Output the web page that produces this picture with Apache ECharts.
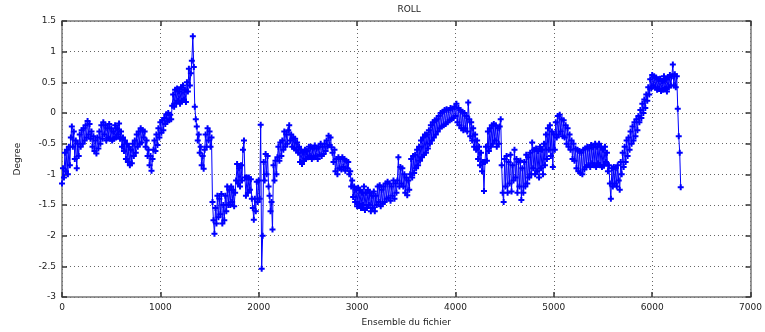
<!DOCTYPE html>
<html>
<head>
<meta charset="utf-8">
<script src="https://cdn.jsdelivr.net/npm/echarts@6/dist/echarts.min.js"></script>
<style>
  html, body { margin: 0; padding: 0; background: #fff; }
  #chart { width: 765px; height: 332px; }
</style>
</head>
<body>
<div id="chart"></div>
<script>
// Roll angle per ensemble, one reading every 10 ensembles starting at 0
const ensembleStep = 10;
const roll = [
  -1.15, -0.9, -1.05, -0.65, -0.95, -0.6, -1.0, -0.55, -0.85, -0.4,
  -0.22, -0.55, -0.3, -0.75, -0.45, -0.9, -0.5, -0.7, -0.35, -0.55,
  -0.28, -0.5, -0.25, -0.45, -0.2, -0.4, -0.13, -0.35, -0.18, -0.42,
  -0.3, -0.55, -0.38, -0.62, -0.45, -0.66, -0.4, -0.58, -0.3, -0.5,
  -0.2, -0.42, -0.15, -0.35, -0.2, -0.45, -0.25, -0.4, -0.18, -0.42,
  -0.25, -0.45, -0.3, -0.42, -0.2, -0.4, -0.25, -0.35, -0.17, -0.42,
  -0.3, -0.55, -0.4, -0.62, -0.45, -0.75, -0.5, -0.8, -0.55, -0.85,
  -0.6, -0.82, -0.5, -0.7, -0.45, -0.65, -0.35, -0.55, -0.3, -0.5,
  -0.25, -0.48, -0.28, -0.4, -0.3, -0.55, -0.45, -0.7, -0.6, -0.85,
  -0.7, -0.94, -0.75, -0.6, -0.45, -0.62, -0.35, -0.52, -0.25, -0.4,
  -0.15, -0.32, -0.12, -0.28, -0.08, -0.18, -0.02, -0.14, 0.0, -0.12,
  -0.03, -0.1, 0.12, 0.3, 0.1, 0.38, 0.16, 0.4, 0.2, 0.35,
  0.15, 0.42, 0.2, 0.45, 0.22, 0.38, 0.18, 0.5, 0.35, 0.72,
  0.45, 0.65, 0.85, 1.25, 0.75, 0.1, -0.1, -0.22, -0.45, -0.35,
  -0.65, -0.55, -0.85, -0.7, -0.91, -0.6, -0.35, -0.55, -0.25, -0.45,
  -0.3, -0.55, -0.4, -1.45, -1.75, -1.97, -1.55, -1.8, -1.35, -1.7,
  -1.4, -1.65, -1.32, -1.8, -1.5, -1.75, -1.35, -1.6, -1.2, -1.5,
  -1.25, -1.5, -1.2, -1.45, -1.25, -1.52, -1.3, -1.1, -0.83, -1.15,
  -0.9, -1.2, -0.85, -1.1, -0.6, -0.45, -1.05, -1.35, -1.05, -1.3,
  -1.05, -1.25, -1.08, -1.4, -1.55, -1.74, -1.4, -1.6, -1.12, -1.45,
  -1.1, -1.4, -0.19, -2.54, -2.0, -0.8, -1.1, -0.67, -1.0, -0.7,
  -1.2, -1.35, -1.6, -1.45, -1.9, -0.85, -1.1, -0.78, -1.0, -0.72,
  -0.55, -0.78, -0.48, -0.7, -0.45, -0.6, -0.3, -0.55, -0.35, -0.5,
  -0.28, -0.2, -0.45, -0.35, -0.55, -0.4, -0.58, -0.42, -0.6, -0.48,
  -0.65, -0.55, -0.8, -0.6, -0.83, -0.65, -0.78, -0.6, -0.75, -0.62,
  -0.72, -0.55, -0.7, -0.55, -0.75, -0.58, -0.72, -0.53, -0.7, -0.58,
  -0.75, -0.55, -0.68, -0.5, -0.7, -0.55, -0.67, -0.5, -0.62, -0.45,
  -0.55, -0.37, -0.52, -0.4, -0.56, -0.65, -0.8, -0.6, -0.95, -0.75,
  -1.0, -0.72, -0.9, -0.75, -0.92, -0.72, -0.88, -0.75, -0.94, -0.78,
  -0.9, -0.8, -1.0, -0.95, -1.2, -1.1, -1.37, -1.2, -1.45, -1.25,
  -1.52, -1.22, -1.48, -1.25, -1.55, -1.3, -1.5, -1.2, -1.58, -1.3,
  -1.55, -1.25, -1.5, -1.3, -1.6, -1.35, -1.55, -1.28, -1.6, -1.35,
  -1.5, -1.2, -1.45, -1.18, -1.52, -1.25, -1.48, -1.2, -1.45, -1.15,
  -1.4, -1.12, -1.38, -1.15, -1.43, -1.2, -1.35, -1.1, -1.4, -1.15,
  -1.3, -1.1, -0.72, -1.2, -0.88, -1.15, -0.9, -1.2, -1.0, -1.3,
  -1.05, -1.34, -1.1, -1.25, -1.0, -0.75, -1.05, -0.7, -0.98, -0.68,
  -0.9, -0.6, -0.85, -0.55, -0.78, -0.45, -0.72, -0.4, -0.68, -0.35,
  -0.65, -0.35, -0.58, -0.28, -0.5, -0.2, -0.45, -0.15, -0.4, -0.12,
  -0.35, -0.1, -0.3, -0.05, -0.25, 0.0, -0.22, 0.02, -0.2, 0.05,
  -0.18, 0.06, -0.15, 0.05, -0.12, 0.08, -0.1, 0.07, -0.08, 0.1,
  -0.05, 0.15, -0.15, 0.08, -0.2, 0.05, -0.25, 0.02, -0.28, 0.0,
  -0.25, -0.05, -0.3, 0.17, -0.1, -0.38, -0.15, -0.45, -0.25, -0.55,
  -0.35, -0.6, -0.45, -0.75, -0.55, -0.85, -0.65, -0.95, -0.8, -1.27,
  -0.8, -0.55, -0.78, -0.3, -0.62, -0.25, -0.55, -0.2, -0.5, -0.18,
  -0.45, -0.2, -0.55, -0.25, -0.5, -0.22, -0.1, -0.85, -1.3, -1.45,
  -0.75, -1.2, -0.7, -1.3, -0.8, -1.15, -0.68, -1.28, -0.85, -1.1,
  -0.6, -1.05, -0.75, -1.3, -0.8, -1.2, -0.78, -1.42, -0.9, -1.3,
  -0.8, -1.2, -0.68, -1.15, -0.72, -1.05, -0.65, -1.0, -0.48, -0.9,
  -0.6, -1.0, -0.58, -0.95, -0.62, -1.05, -0.55, -0.9, -0.6, -1.0,
  -0.5, -0.85, -0.35, -0.75, -0.25, -0.6, -0.2, -0.7, -0.3, -0.88,
  -0.35, -0.6, -0.15, -0.4, -0.05, -0.35, -0.03, -0.3, -0.1, -0.38,
  -0.12, -0.4, -0.2, -0.5, -0.25, -0.55, -0.35, -0.6, -0.45, -0.75,
  -0.5, -0.78, -0.58, -0.9, -0.6, -0.95, -0.62, -0.98, -0.65, -1.0,
  -0.6, -0.92, -0.58, -0.88, -0.55, -0.85, -0.58, -0.88, -0.52, -0.82,
  -0.56, -0.85, -0.5, -0.88, -0.55, -0.82, -0.5, -0.85, -0.55, -0.88,
  -0.6, -0.86, -0.55, -0.8, -0.65, -0.95, -0.85, -1.15, -1.4, -0.9,
  -1.2, -0.88, -1.15, -0.9, -1.2, -0.85, -1.1, -1.25, -0.8, -1.0,
  -0.65, -0.88, -0.55, -0.8, -0.45, -0.7, -0.4, -0.6, -0.3, -0.5,
  -0.22, -0.45, -0.15, -0.38, -0.1, -0.28, -0.05, -0.15, 0.05, -0.08,
  0.15, 0.0, 0.22, 0.08, 0.3, 0.2, 0.42, 0.3, 0.55, 0.4,
  0.62, 0.45, 0.6, 0.42, 0.58, 0.38, 0.55, 0.4, 0.56, 0.36,
  0.52, 0.38, 0.6, 0.4, 0.55, 0.35, 0.58, 0.42, 0.62, 0.45,
  0.6, 0.79, 0.45, 0.63, 0.42, 0.6, 0.07, -0.38, -0.65, -1.21
];

const xTicks = { min: 0, max: 7000, interval: 1000 };
const yTicks = { min: -3, max: 1.5, interval: 0.5 };

const points = roll.map((v, i) => [i * ensembleStep, v]);

const plotBox = { left: 62, right: 10, top: 21, bottom: 35 };
const chartWidth = 765;

const labelFont = { fontFamily: 'DejaVu Sans', fontSize: 9, color: '#222' };
const frameLine = { show: true, onZero: false, lineStyle: { color: '#777', width: 1.5 } };
const gridLine = { show: true, lineStyle: { color: '#666', width: 1, type: [1, 3] } };
const inTicks = { show: true, inside: true, length: 5, lineStyle: { color: '#333', width: 1.5 } };
const plain = v => String(v);

const chart = echarts.init(document.getElementById('chart'), null, { renderer: 'canvas' });
chart.setOption({
  animation: false,
  backgroundColor: '#fff',
  graphic: [{
    type: 'text',
    left: (plotBox.left + chartWidth - plotBox.right) / 2 - 11,
    top: 5,
    style: { text: 'ROLL', fontFamily: 'DejaVu Sans', fontSize: 9, fill: '#222' }
  }],
  grid: plotBox,
  xAxis: [
    {
      type: 'value', min: xTicks.min, max: xTicks.max, interval: xTicks.interval,
      name: 'Ensemble du fichier', nameLocation: 'middle', nameGap: 21,
      nameTextStyle: labelFont,
      axisLine: frameLine, axisTick: inTicks, splitLine: gridLine,
      axisLabel: Object.assign({ margin: 6, formatter: plain }, labelFont)
    },
    {
      type: 'value', position: 'top', min: xTicks.min, max: xTicks.max, interval: xTicks.interval,
      axisLine: frameLine, axisTick: inTicks, splitLine: { show: false }, axisLabel: { show: false }
    }
  ],
  yAxis: [
    {
      type: 'value', min: yTicks.min, max: yTicks.max, interval: yTicks.interval,
      name: 'Degree', nameLocation: 'middle', nameGap: 40, nameRotate: 90,
      nameTextStyle: labelFont,
      axisLine: frameLine, axisTick: inTicks, splitLine: gridLine,
      axisLabel: Object.assign({ margin: 6, formatter: plain }, labelFont)
    },
    {
      type: 'value', position: 'right', min: yTicks.min, max: yTicks.max, interval: yTicks.interval,
      axisLine: frameLine, axisTick: inTicks, splitLine: { show: false }, axisLabel: { show: false }
    }
  ],
  series: [{
    type: 'line',
    data: points,
    showSymbol: true,
    showAllSymbol: true,
    symbol: 'path://M2,0H4V2H6V4H4V6H2V4H0V2H2Z',
    symbolSize: 6,
    itemStyle: { color: '#0000ff' },
    lineStyle: { color: '#0000ff', width: 1 },
    silent: true
  }]
});
</script>
</body>
</html>
